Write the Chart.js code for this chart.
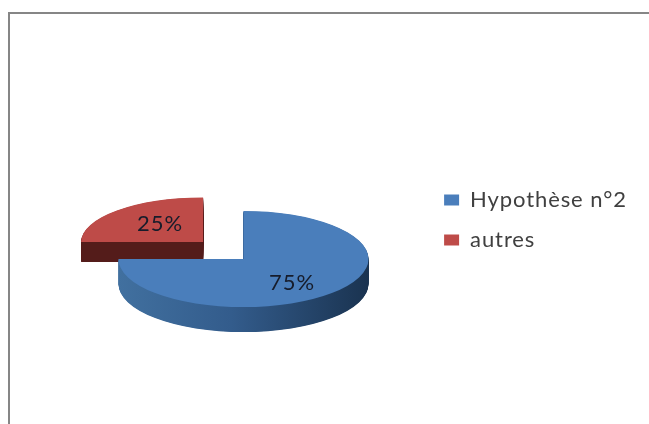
<!DOCTYPE html>
<html lang="fr">
<head>
<meta charset="utf-8">
<style>
html,body{margin:0;padding:0;background:#fff;width:649px;height:424px;overflow:hidden}
#frame{position:absolute;left:8px;top:12px;width:641px;height:412px;border-left:2px solid #868686;border-top:2px solid #868686;box-sizing:border-box}
#c{position:absolute;left:0;top:0;filter:blur(0.5px)}
</style>
<script src="https://cdn.jsdelivr.net/npm/chart.js@4"></script>
</head>
<body>
<div id="frame"></div>
<canvas id="c" width="649" height="424"></canvas>
<script>
const categories = ['Hypothèse n°2', 'autres'];
const values = [75, 25];
const sliceColors = ['#4a7ebb', '#be4b48'];
const explode = [0, 240];

const pieX = 243.5, pieY = 259;
const scaleX = [1, 0.976];
const scaleY = [0.385, 0.355];
const shiftX = [0, 1];
const shiftY = [0, -2];
const depths = [25, 20];
const labelSpots = [[48.5, 24], [-43, -18]];
const textSpacing = '0.9px';

const pie3d = {
  id: 'pie3d',
  beforeUpdate(chart) { chart.ctx.letterSpacing = textSpacing; },
  beforeDatasetDraw(chart, args) {
    const ctx = chart.ctx, meta = chart.getDatasetMeta(args.index);
    const cx = meta.data[0].x, cy = meta.data[0].y;
    const r = meta.data[0].outerRadius;
    const blueSide = ctx.createLinearGradient(cx - r, 0, cx + r, 0);
    blueSide.addColorStop(0, '#41709f');
    blueSide.addColorStop(0.45, '#335c8c');
    blueSide.addColorStop(1, '#1a3350');
    const sides = [blueSide, '#551c1a'];
    [1, 0].forEach(i => {
      const el = meta.data[i];
      ctx.save();
      ctx.translate(pieX + shiftX[i], pieY + shiftY[i]);
      ctx.scale(scaleX[i], scaleY[i]);
      ctx.translate(-cx, -cy);
      const o = {backgroundColor: sides[i], borderColor: sides[i], borderWidth: 0, borderAlign: 'center', offset: explode[i], spacing: 0, circular: true, borderRadius: 0};
      const side = Object.assign(Object.create(el), {options: o});
      for (let k = depths[i]; k > 0; k -= 0.5) {
        ctx.save();
        ctx.translate(0, k / scaleY[i]);
        side.draw(ctx);
        ctx.restore();
      }
      el.draw(ctx);
      ctx.restore();
    });
    return false;
  },
  afterDraw(chart) {
    const ctx = chart.ctx;
    const total = values.reduce((a, b) => a + b, 0);
    const apexes = [[pieX, pieY], [203, 242]];
    ctx.save();
    ctx.font = '22px Lato';
    ctx.fillStyle = '#161c2b';
    ctx.textAlign = 'center';
    ctx.textBaseline = 'middle';
    values.forEach((v, i) => {
      ctx.fillText(Math.round(v / total * 100) + '%', apexes[i][0] + labelSpots[i][0], apexes[i][1] + labelSpots[i][1]);
    });
    ctx.restore();
  }
};

new Chart(document.getElementById('c'), {
  type: 'doughnut',
  data: {
    labels: categories,
    datasets: [{data: values, backgroundColor: sliceColors, offset: explode, borderWidth: 0, clip: false}]
  },
  options: {
    responsive: false,
    animation: false,
    cutout: 0,
    radius: 125,
    layout: {padding: {top: 16, right: 12}},
    plugins: {
      tooltip: {enabled: false},
      legend: {
        position: 'right',
        labels: {
          boxWidth: 15, boxHeight: 11, padding: 18,
          color: '#404040',
          font: {family: 'Lato', size: 22}
        }
      }
    }
  },
  plugins: [pie3d]
});
</script>
</body>
</html>
